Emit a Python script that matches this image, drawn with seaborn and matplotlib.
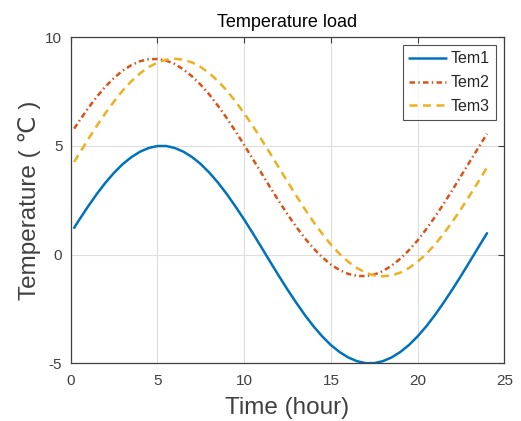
import matplotlib
matplotlib.use("Agg")
import matplotlib.pyplot as plt
import seaborn as sns
import pandas as pd

# Half-hourly temperature readings (°C)
hours = [0.2, 0.5, 1.0, 1.5, 2.0, 2.5, 3.0, 3.5, 4.0, 4.5, 5.0, 5.5, 6.0,
         6.5, 7.0, 7.5, 8.0, 8.5, 9.0, 9.5, 10.0, 10.5, 11.0, 11.5, 12.0,
         12.5, 13.0, 13.5, 14.0, 14.5, 15.0, 15.5, 16.0, 16.5, 17.0, 17.5,
         18.0, 18.5, 19.0, 19.5, 20.0, 20.5, 21.0, 21.5, 22.0, 22.5, 23.0,
         23.5, 24.0]
tem1 = [1.23, 1.61, 2.21, 2.78, 3.30, 3.76, 4.16, 4.48, 4.73, 4.90, 4.99,
        4.99, 4.90, 4.73, 4.48, 4.16, 3.76, 3.30, 2.78, 2.21, 1.61, 0.98,
        0.33, -0.33, -0.98, -1.61, -2.21, -2.78, -3.30, -3.76, -4.16, -4.48,
        -4.73, -4.90, -4.99, -4.99, -4.90, -4.73, -4.48, -4.16, -3.76, -3.30,
        -2.78, -2.21, -1.61, -0.98, -0.33, 0.33, 0.98]
tem2 = [5.79, 6.15, 6.72, 7.25, 7.72, 8.12, 8.46, 8.71, 8.89, 8.98, 8.99,
        8.92, 8.76, 8.51, 8.19, 7.80, 7.35, 6.83, 6.27, 5.67, 5.04, 4.39,
        3.74, 3.09, 2.46, 1.85, 1.28, 0.75, 0.28, -0.12, -0.46, -0.71,
        -0.89, -0.98, -0.99, -0.92, -0.76, -0.51, -0.19, 0.20, 0.65, 1.17,
        1.73, 2.33, 2.96, 3.61, 4.26, 4.91, 5.55]
tem3 = [4.26, 4.65, 5.29, 5.91, 6.50, 7.04, 7.54, 7.97, 8.33, 8.62, 8.83,
        8.96, 9.00, 8.96, 8.83, 8.62, 8.33, 7.97, 7.54, 7.04, 6.50, 5.91,
        5.29, 4.65, 4.00, 3.35, 2.71, 2.09, 1.50, 0.96, 0.46, 0.03, -0.33,
        -0.62, -0.83, -0.96, -1.00, -0.96, -0.83, -0.62, -0.33, 0.03, 0.46,
        0.96, 1.50, 2.09, 2.71, 3.35, 4.00]

series_names = ["Tem1", "Tem2", "Tem3"]
colors = ["#0072BD", "#D95319", "#EDB120"]
x_ticks = [0, 5, 10, 15, 20, 25]
y_ticks = [-5, 0, 5, 10]

sns.set_style("white")
plt.rcParams["font.family"] = ["Liberation Sans", "DejaVu Sans"]
plt.rcParams["axes.unicode_minus"] = False

fig = plt.figure(figsize=(5.21, 4.21), dpi=100)
ax = fig.add_axes([0.1357, 0.137, 0.8323, 0.775])

df = pd.DataFrame({"Time": hours * 3,
                   "Temperature": tem1 + tem2 + tem3,
                   "Series": sum([[n] * len(hours) for n in series_names], [])})

sns.lineplot(data=df, x="Time", y="Temperature", hue="Series",
             style="Series", palette=colors,
             dashes={"Tem1": "", "Tem2": (2.2, 1.3, 0.6, 1.3), "Tem3": (3.2, 2.2)},
             linewidth=1.8, ax=ax, legend=False, sort=False)

for line, name in zip(ax.get_lines(), series_names):
    line.set_label(name)

ax.set_xlim(0, 25)
ax.set_ylim(-5, 10)
ax.set_xticks(x_ticks)
ax.set_yticks(y_ticks)
ax.grid(True, color="#dddddd", linewidth=0.8)
ax.set_axisbelow(True)

axis_color = "#404040"
for sp in ax.spines.values():
    sp.set_visible(True)
    sp.set_color(axis_color)
    sp.set_linewidth(0.9)
ax.tick_params(axis="both", which="both", direction="in", length=4,
               width=0.8, color=axis_color, labelcolor="#404040",
               labelsize=11, top=True, right=True)
ax.tick_params(axis="x", pad=8)
ax.tick_params(axis="y", pad=6)

ax.set_title("Temperature load", fontsize=13, color="black", pad=7)
ax.set_xlabel("Time (hour)", fontsize=17.5, color="#404040", labelpad=6)
ax.set_ylabel("Temperature ( ℃ )", fontsize=17.5, color="#404040", labelpad=3)

leg = ax.legend(loc="upper right", fontsize=11.5, frameon=True, fancybox=False,
                handlelength=2.3, handletextpad=0.3, borderpad=0.4,
                labelspacing=0.55, borderaxespad=0.5)
leg.get_frame().set_edgecolor("#262626")
leg.get_frame().set_linewidth(0.8)

fig.savefig("out.png", dpi=100)
